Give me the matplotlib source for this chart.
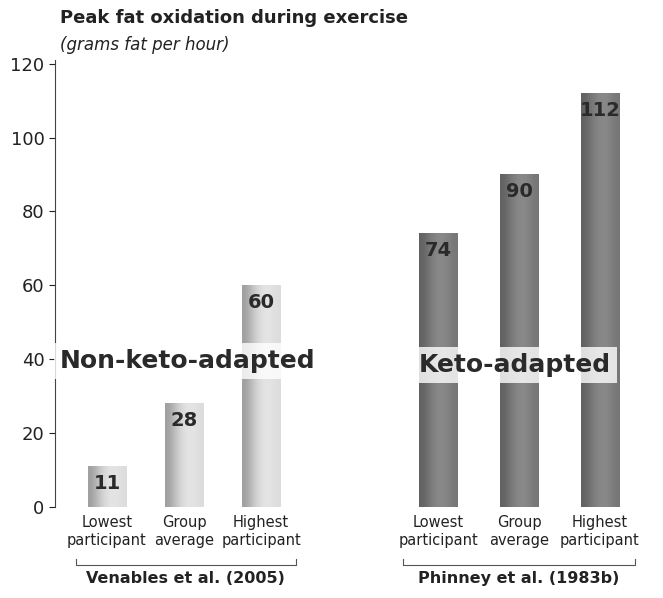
import matplotlib
matplotlib.use("Agg")
import matplotlib.pyplot as plt
import numpy as np

cats = ["Lowest\nparticipant", "Group\naverage", "Highest\nparticipant"] * 2
values = [11, 28, 60, 74, 90, 112]
pos = [0, 1, 2, 4.3, 5.35, 6.4]
groups = ["Venables et al. (2005)", "Phinney et al. (1983b)"]
yticks = [0, 20, 40, 60, 80, 100, 120]

fig = plt.figure(figsize=(6.63, 5.98), dpi=100)
ax = fig.add_axes([55/663, 1-507/598, 1-55/663, (507-60)/598])
w = 0.5
for i, (p, v) in enumerate(zip(pos, values)):
    if i < 3:
        g = np.array([[0.62, 0.78, 0.88, 0.9, 0.86]])
    else:
        g = np.array([[0.38, 0.48, 0.54, 0.53, 0.46]])
    ax.imshow(g, cmap="gray", vmin=0, vmax=1, extent=[p-w/2, p+w/2, 0, v],
              aspect="auto", interpolation="bicubic", zorder=2)
    ax.text(p, v-2, str(v), ha="center", va="top", fontsize=14,
            fontweight="bold", color="#2a2a2a", zorder=4)
    ax.text(p, -2.3, cats[i], ha="center", va="top", fontsize=10.5, color="#222")

ax.set_xlim(-0.675, 7.22)
ax.set_ylim(0, 121)
ax.set_yticks(yticks)
ax.tick_params(axis="y", labelsize=13, direction="out", length=4, colors="#222")
ax.set_xticks([])
for s in ["top", "right", "bottom"]:
    ax.spines[s].set_visible(False)
ax.spines["left"].set_color("#444")

box = dict(boxstyle="square,pad=0.25", fc="white", ec="none", alpha=0.8)
ax.text(1.05, 39.5, "Non-keto-adapted", ha="center", va="center", fontsize=18,
        fontweight="bold", color="#2a2a2a", bbox=box, zorder=5)
ax.text(5.3, 38.5, "Keto-adapted", ha="center", va="center", fontsize=18,
        fontweight="bold", color="#2a2a2a", bbox=box, zorder=5)

# brackets
for (a, b), name in zip([(-0.4, 2.45), (3.85, 6.85)], groups):
    yb = -15.6
    ax.plot([a, a, b, b], [yb+1.5, yb, yb, yb+1.5], color="#555", lw=0.8, clip_on=False)
    ax.text((a+b)/2, yb-1.8, name, ha="center", va="top", fontsize=11.5,
            fontweight="bold", color="#222")

fig.text(60/663, 1-18/598, "Peak fat oxidation during exercise", fontsize=13,
         fontweight="bold", color="#222", va="center")
fig.text(60/663, 1-45/598, "(grams fat per hour)", fontsize=12, style="italic",
         color="#222", va="center")
fig.savefig("out.png", dpi=100)
